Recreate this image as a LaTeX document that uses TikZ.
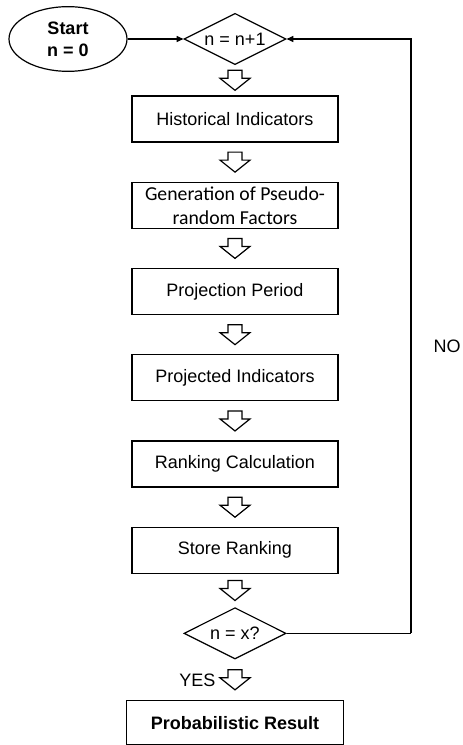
\documentclass[tikz,border=0pt]{standalone}
\usepackage{fontspec}
\setmainfont{Liberation Sans}
\newfontfamily\carlito{Carlito}
\usetikzlibrary{shapes.geometric,arrows.meta,calc}

\tikzset{
  stepbox/.style={rectangle,draw,line width=0.9pt,minimum width=154.5pt,minimum height=34.5pt,
    inner sep=1pt,align=center,font=\fontsize{13.5}{16}\selectfont},
  testbox/.style={diamond,aspect=2,draw,line width=0.9pt,minimum width=76.5pt,minimum height=38.5pt,
    inner sep=0pt,font=\fontsize{13.5}{16}\selectfont},
  flowline/.style={line width=0.9pt,-{Triangle[length=5pt,width=4.5pt]}},
  pics/blockdown/.style={code={
    \draw[line width=0.9pt,fill=white] (-5.25pt,7.5pt) -- (5.25pt,7.5pt) -- (5.25pt,1.5pt)
      -- (11.25pt,1.5pt) -- (0,-7.5pt) -- (-11.25pt,1.5pt) -- (-5.25pt,1.5pt) -- cycle;}}
}

\begin{document}
\begin{tikzpicture}[node distance=64.7pt]
	\useasboundingbox (0,0) rectangle (347.25pt,-558.75pt);

	\node (incr) [testbox] at (176.25pt,-29.25pt) {n = n+1};
	\node (start) [ellipse,draw,line width=0.9pt,minimum width=88.5pt,minimum height=48.5pt,inner sep=0pt,
		align=center,font=\bfseries\fontsize{13.5}{16.5}\selectfont,left of=incr,node distance=125.25pt] {Start\\n = 0};
	\node (hist) [stepbox,below of=incr,node distance=60pt] {Historical Indicators};
	\node (gen) [stepbox,below of=hist,font=\carlito\fontsize{14.8}{18}\selectfont] {Generation of Pseudo-\\random Factors};
	\node (proj) [stepbox,below of=gen] {Projection Period};
	\node (projd) [stepbox,below of=proj] {Projected Indicators};
	\node (rank) [stepbox,below of=projd] {Ranking Calculation};
	\node (store) [stepbox,below of=rank] {Store Ranking};
	\node (check) [testbox,below of=store,node distance=62.25pt] {n = x?};
	\node (result) [stepbox,below of=check,node distance=67pt,minimum width=162.75pt,minimum height=33pt,
		font=\bfseries\fontsize{13.5}{16}\selectfont] {Probabilistic Result};

	% hollow arrows between the steps
	\foreach \a/\b in {incr/hist,hist/gen,gen/proj,proj/projd,projd/rank,rank/store,store/check,check/result}
		\path ($(\a.south)!0.5!(\b.north)$) pic{blockdown};

	\coordinate (corner) at (308.25pt,-29.25pt);
	\node (no) at (335.25pt,-259.5pt) {\fontsize{13.5}{16}\selectfont NO};
	\node (yes) [anchor=east,inner sep=0pt] at ($($(check.south)!0.5!(result.north)$)+(-14.5pt,0)$) {\fontsize{13.5}{16}\selectfont YES};

	\path[flowline]
		(start) edge (incr)
		(check.east) edge[-] (check.east -| corner);
	\draw[flowline] (check.east -| corner) -- (corner) -- (incr.east);

\end{tikzpicture}
\end{document}
